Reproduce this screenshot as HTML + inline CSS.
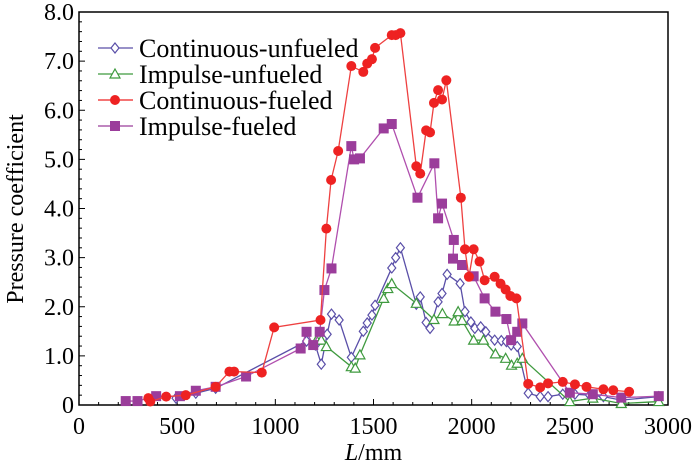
<!DOCTYPE html>
<html><head><meta charset="utf-8"><style>
html,body{margin:0;padding:0;background:#fff;}
svg{display:block;font-family:"Liberation Serif",serif;}
</style></head><body>
<svg id="chart" width="700" height="467" viewBox="0 0 700 467" xmlns="http://www.w3.org/2000/svg"></svg>
<script>
const xTicks=[0,500,1000,1500,2000,2500,3000];
const yTicks=[0,1,2,3,4,5,6,7,8];
const yTickLabels=["0","1.0","2.0","3.0","4.0","5.0","6.0","7.0","8.0"];
const seriesNames=["Continuous-unfueled","Impulse-unfueled","Continuous-fueled","Impulse-fueled"];
const cuX=[494,595,696,1159,1204,1234,1264,1286,1325,1387,1448,1468,1492,1508,1593,1613,1637,1718,1738,1768,1788,1829,1849,1875,1941,1966,1996,2016,2046,2072,2117,2151,2177,2201,2232,2288,2349,2389,2464,2526,2601,2671,2762,2953];
const cuY=[0.14,0.24,0.34,1.3,1.22,0.83,1.44,1.85,1.73,0.97,1.5,1.67,1.83,2.03,2.79,3.0,3.2,2.05,2.2,1.68,1.56,2.1,2.27,2.66,2.47,1.9,1.69,1.56,1.59,1.49,1.32,1.31,1.29,1.22,1.19,0.24,0.17,0.17,0.22,0.22,0.2,0.17,0.1,0.17];
const iuX=[1210,1234,1260,1387,1407,1431,1552,1573,1593,1718,1808,1851,1911,1931,1951,2010,2060,2121,2173,2203,2232,2258,2500,2617,2762,2953];
const iuY=[1.32,1.32,1.19,0.78,0.75,1.02,2.17,2.37,2.47,2.07,1.74,1.86,1.71,1.9,1.72,1.32,1.32,1.04,0.95,0.81,0.85,0.95,0.07,0.14,0.03,0.07];
const cfX=[353,363,444,544,696,766,790,931,994,1230,1260,1284,1320,1387,1448,1468,1492,1508,1593,1613,1637,1718,1738,1768,1788,1808,1829,1849,1871,1945,1966,1986,2010,2040,2066,2117,2147,2173,2197,2228,2288,2349,2389,2464,2526,2585,2671,2721,2802];
const cfY=[0.14,0.07,0.17,0.2,0.37,0.68,0.68,0.66,1.58,1.73,3.59,4.58,5.17,6.9,6.78,6.95,7.04,7.27,7.53,7.53,7.57,4.86,4.71,5.59,5.55,6.15,6.41,6.22,6.61,4.22,3.17,2.61,3.17,2.92,2.54,2.61,2.47,2.35,2.22,2.17,0.43,0.36,0.44,0.47,0.42,0.37,0.32,0.3,0.27];
const ifX=[238,298,393,514,595,696,851,1129,1159,1193,1226,1250,1286,1387,1401,1431,1552,1593,1724,1810,1829,1849,1909,1905,1951,2010,2066,2121,2177,2201,2232,2258,2500,2617,2762,2953];
const ifY=[0.08,0.08,0.18,0.18,0.29,0.37,0.58,1.15,1.49,1.22,1.49,2.34,2.78,5.27,5.0,5.02,5.63,5.72,4.22,4.92,3.8,4.1,3.36,2.98,2.85,2.62,2.17,1.9,1.75,1.32,1.49,1.66,0.25,0.22,0.15,0.18];

const L=79,R=668,T=12,B=405;
const sx=v=>L+(v/3000)*(R-L);
const sy=v=>B-(v/8)*(B-T);
const NS="http://www.w3.org/2000/svg";
const svg=document.getElementById('chart');
function mk(tag,attrs,parent){const e=document.createElementNS(NS,tag);for(const k in attrs)e.setAttribute(k,attrs[k]);(parent||svg).appendChild(e);return e;}

const frame=mk('rect',{x:L,y:T,width:R-L,height:B-T,fill:'none',stroke:'#000','stroke-width':1.5});



for(let i=0;i<=40;i++){const v=i*0.2;const y=sy(v);const major=i%5===0;
 const t=mk('line',{x1:L,x2:L+(major?6:3),y1:y,y2:y,stroke:'#000','stroke-width':1});
 
 }
yTicks.forEach((v,i)=>{const t=mk('text',{x:L-5,y:sy(v)+8,'text-anchor':'end','font-size':24,fill:'#000'});t.textContent=yTickLabels[i];
 
 });
for(let v=0;v<=3000;v+=100){const x=sx(v);const major=v%500===0;
 const t=mk('line',{x1:x,x2:x,y1:B,y2:B-(major?6:3),stroke:'#000','stroke-width':1});
 
 }
xTicks.forEach(v=>{const t=mk('text',{x:sx(v),y:B+29,'text-anchor':'middle','font-size':24,fill:'#000'});t.textContent=String(v);
 
 });

const xt=mk('text',{x:sx(1500),y:460,'text-anchor':'middle','font-size':24,fill:'#000'});
xt.innerHTML='<tspan font-style="italic">L</tspan>/mm';


const yt=mk('text',{x:0,y:0,'text-anchor':'middle','font-size':24,fill:'#000',transform:'translate(23,209) rotate(-90)'});
yt.textContent='Pressure coefficient';



function marker(type,color,x,y,g){
 if(type==='diamond')return mk('path',{d:`M${x} ${y-5}L${x+4} ${y}L${x} ${y+5}L${x-4} ${y}Z`,fill:'#fff',stroke:color,'stroke-width':1.2},g);
 if(type==='tri')return mk('path',{d:`M${x} ${y-5}L${x+5} ${y+4}L${x-5} ${y+4}Z`,fill:'#fff',stroke:color,'stroke-width':1.2},g);
 if(type==='circle')return mk('circle',{cx:x,cy:y,r:5,fill:color},g);
 return mk('rect',{x:x-5,y:y-5,width:10,height:10,fill:color},g);
}
const defs=[
 {xs:cuX,ys:cuY,line:'#5a4fa8',mk:'#5a4fa8',type:'diamond',name:'continuous-unfueled'},
 {xs:iuX,ys:iuY,line:'#3f9a3f',mk:'#3f9a3f',type:'tri',name:'impulse-unfueled'},
 {xs:ifX,ys:ifY,line:'#b04fae',mk:'#9b3d9b',type:'square',name:'impulse-fueled'},
 {xs:cfX,ys:cfY,line:'#ee4040',mk:'#ee2222',type:'circle',name:'continuous-fueled'},
];
defs.forEach(s=>{
 const g=mk('g',{});
 
 
 const pts=s.xs.map((x,i)=>sx(x)+','+sy(s.ys[i])).join(' ');
 const pl=mk('polyline',{points:pts,fill:'none',stroke:s.line,'stroke-width':1.3},g);
 
 
 s.xs.forEach((x,i)=>{const m=marker(s.type,s.mk,sx(x),sy(s.ys[i]),g);
  
  });
});

const lg=mk('g',{});


const legCols=['#5a4fa8','#3f9a3f','#ee2222','#9b3d9b'];
const legTypes=['diamond','tri','circle','square'];
seriesNames.forEach((n,i)=>{
 const y=48+i*26;
 const e=mk('g',{},lg);
 
 
 mk('line',{x1:98,x2:133,y1:y,y2:y,stroke:legCols[i],'stroke-width':1.3},e);
 marker(legTypes[i],legCols[i],115,y,e);
 const t=mk('text',{x:139,y:y+9,'font-size':26,fill:'#000'},e);t.textContent=n;
});
</script>
</body></html>
